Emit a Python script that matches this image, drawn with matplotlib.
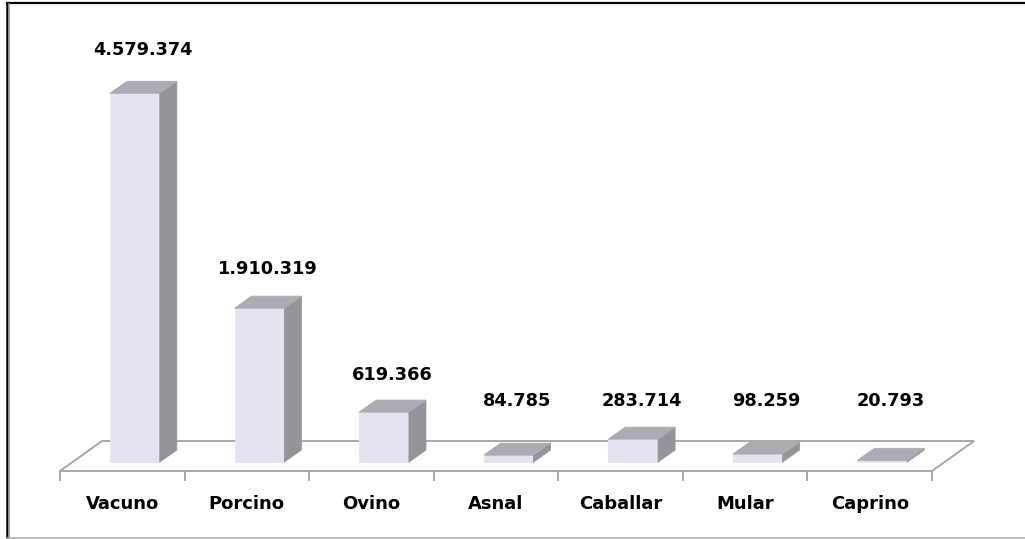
import numpy as np
import matplotlib.pyplot as plt
from matplotlib.patches import Polygon
from matplotlib.lines import Line2D
from matplotlib.transforms import IdentityTransform

categories = ['Vacuno', 'Porcino', 'Ovino', 'Asnal', 'Caballar', 'Mular', 'Caprino']
values = [4579374, 1910319, 619366, 84785, 283714, 98259, 20793]
value_labels = ['4.579.374', '1.910.319', '619.366', '84.785', '283.714', '98.259', '20.793']

W, H = 1025, 539
front_col = '#e6e1ee'
side_col = '#97939b'
top_col = '#aeaab3'
floor_col = '#a8a8a8'

fig = plt.figure(figsize=(W / 100, H / 100), dpi=100)
# the axes box sits on the front edge of the 3d floor
ax = fig.add_axes([60 / W, (H - 471) / H, 872 / W, 402.6 / H])
ax.set_xlim(0, len(categories))
ax.set_ylim(0, 5e6)
ax.axis('off')

def px(x, y):
    return np.array(ax.transData.transform((x, y)))

floor_depth = np.array([42.0, 30.0])
bar_shift = np.array([12.6, 9.0])   # bar front sits a bit inside the floor
bar_depth = np.array([17.0, 12.0])
ident = IdentityTransform()

# floor
fl, fr = px(0, 0), px(len(categories), 0)
floor = Polygon([fl, fr, fr + floor_depth, fl + floor_depth], closed=True,
                facecolor='white', edgecolor=floor_col, lw=1.4,
                transform=ident, clip_on=False, zorder=1)
ax.add_patch(floor)

# tick marks between categories
for k in range(len(categories) + 1):
    p = px(k, 0)
    ax.add_line(Line2D([p[0], p[0]], [p[1], p[1] - 9], color=floor_col, lw=1.4,
                       transform=ident, clip_on=False, zorder=1))

half = 0.2
for i, (v, lab) in enumerate(zip(values, value_labels)):
    b0 = px(i + 0.5 - half, 0) + bar_shift
    b1 = px(i + 0.5 + half, 0) + bar_shift
    t0 = px(i + 0.5 - half, v) + bar_shift
    t1 = px(i + 0.5 + half, v) + bar_shift
    faces = [
        ([b0, b1, t1, t0], front_col),
        ([b1, b1 + bar_depth, t1 + bar_depth, t1], side_col),
        ([t0, t1, t1 + bar_depth, t0 + bar_depth], top_col),
    ]
    for pts, c in faces:
        ax.add_patch(Polygon(pts, closed=True, facecolor=c, edgecolor=c, lw=0.6,
                             transform=ident, clip_on=False, zorder=2))
    cx = (t0[0] + t1[0]) / 2 + bar_depth[0] / 2
    cy = max(t1[1] + bar_depth[1] + 24 + v * 1.5e-6, 138)
    ax.annotate(lab, xy=(cx, cy), xycoords='figure pixels', ha='center', va='center',
                fontsize=12.8, fontweight='bold', color='black', family='DejaVu Sans')

for i, cat in enumerate(categories):
    ax.annotate(cat, xy=(px(i + 0.5, 0)[0], H - 504), xycoords='figure pixels',
                ha='center', va='center', fontsize=13, fontweight='bold',
                color='black', family='DejaVu Sans')

# chart frame (right side falls outside the picture)
fig.add_artist(Line2D([7, W], [H - 3, H - 3], color='black', lw=1.6, transform=ident))
fig.add_artist(Line2D([7, 7], [H - 3, 1], color='black', lw=1.8, transform=ident))
fig.add_artist(Line2D([9, 9], [H - 4, 1], color='#9a9a9a', lw=1.2, transform=ident))
fig.add_artist(Line2D([7, W], [1, 1], color='#b0b0b0', lw=1.2, transform=ident))

fig.savefig('out.png', dpi=100)
